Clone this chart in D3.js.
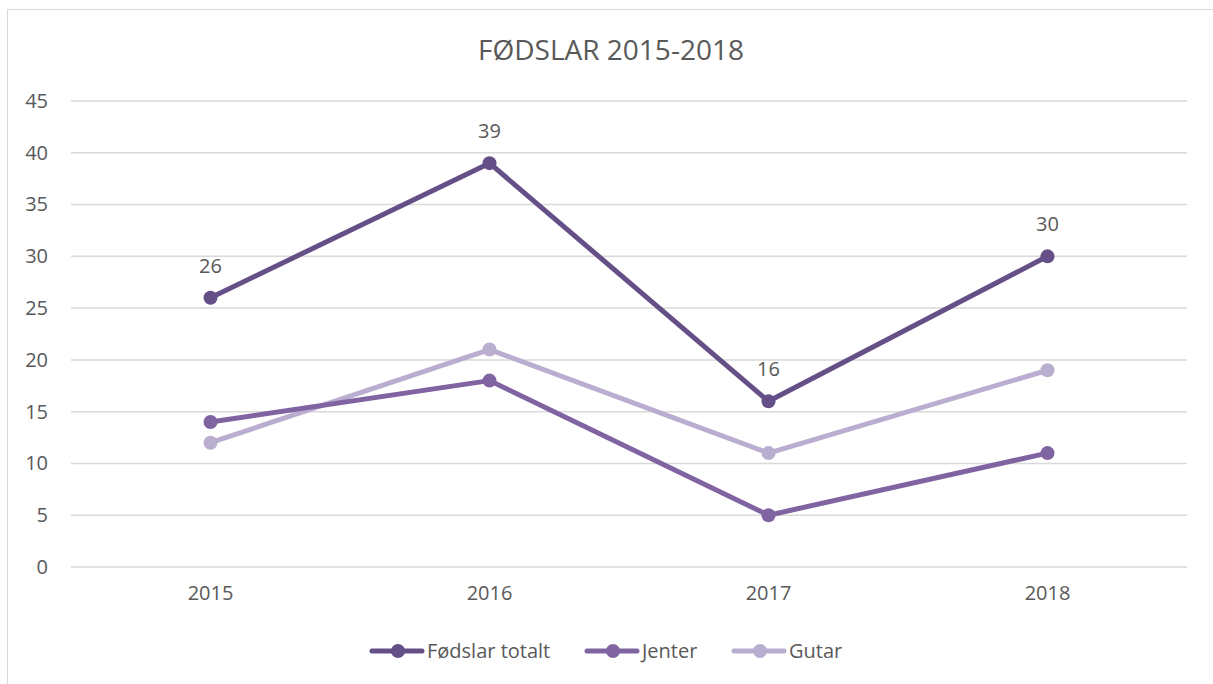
<!DOCTYPE html>
<html>
<head>
<meta charset="utf-8">
<script src="https://cdn.jsdelivr.net/npm/d3@7"></script>
<style>
  body { margin: 0; background: #fff; }
  text { font-family: "Open Sans", "Noto Sans", sans-serif; fill: #595959; }
</style>
</head>
<body>
<svg id="chart"></svg>
<script>
// data
const years = ["2015", "2016", "2017", "2018"];
const seriesNames = ["Fødslar totalt", "Jenter", "Gutar"];
const totalt = [26, 39, 16, 30];
const jenter = [14, 18, 5, 11];
const gutar = [12, 21, 11, 19];
const yTicks = [0, 5, 10, 15, 20, 25, 30, 35, 40, 45];

const width = 1213, height = 684;
const colors = ["#654f87", "#8064a2", "#b9aecf"];
const series = [totalt, jenter, gutar];

const svg = d3.select("#chart").attr("width", width).attr("height", height);

// chart border
svg.append("rect")
  .attr("x", 7.5).attr("y", 9.5)
  .attr("width", width).attr("height", height)
  .attr("fill", "none").attr("stroke", "#d9d9d9").attr("stroke-width", 1);

const x = d3.scaleBand().domain(years).range([71, 1187]);
const y = d3.scaleLinear().domain([0, 45]).range([567, 101]);

// gridlines
svg.append("g")
  .selectAll("line")
  .data(yTicks)
  .enter()
  .append("line")
  .attr("x1", 71).attr("x2", 1187)
  .attr("y1", d => y(d)).attr("y2", d => y(d))
  .attr("stroke", "#d9d9d9").attr("stroke-width", 1.5);

// y axis
const yAxis = svg.append("g")
  .attr("transform", "translate(48,0)")
  .call(d3.axisLeft(y).tickValues(yTicks).tickSize(0).tickPadding(0));
yAxis.select(".domain").remove();
yAxis.selectAll("text").style("font-size", "20px").attr("fill", "#595959");

// x axis
const xAxis = svg.append("g")
  .attr("transform", "translate(0,586)")
  .call(d3.axisBottom(x).tickSize(0).tickPadding(0));
xAxis.select(".domain").remove();
xAxis.selectAll("text").style("font-size", "20px").attr("fill", "#595959");

// title
svg.append("text")
  .attr("x", 611).attr("y", 60)
  .attr("text-anchor", "middle")
  .style("font-size", "28px")
  .text("FØDSLAR 2015-2018");

const line = d3.line()
  .x((d, i) => x(years[i]) + x.bandwidth() / 2)
  .y(d => y(d));

// draw lighter series first so totalt sits on top
[2, 1, 0].forEach(k => {
  const g = svg.append("g");
  g.append("path")
    .datum(series[k])
    .attr("d", line)
    .attr("fill", "none")
    .attr("stroke", colors[k])
    .attr("stroke-width", 5)
    .attr("stroke-linecap", "round")
    .attr("stroke-linejoin", "round");
  g.selectAll("circle")
    .data(series[k])
    .enter()
    .append("circle")
    .attr("cx", (d, i) => x(years[i]) + x.bandwidth() / 2)
    .attr("cy", d => y(d))
    .attr("r", 7)
    .attr("fill", colors[k]);
});

// data labels for totalt
svg.append("g")
  .selectAll("text")
  .data(totalt)
  .enter()
  .append("text")
  .attr("x", (d, i) => x(years[i]) + x.bandwidth() / 2)
  .attr("y", d => y(d) - 25)
  .attr("text-anchor", "middle")
  .style("font-size", "20px")
  .attr("fill", "#404040")
  .text(d => d);

// legend
const legendX = [370, 585, 732];
const legend = svg.append("g")
  .selectAll("g")
  .data(seriesNames)
  .enter()
  .append("g")
  .attr("transform", (d, i) => "translate(" + legendX[i] + ",651)");
legend.append("line")
  .attr("x1", 2).attr("x2", 52)
  .attr("stroke", (d, i) => colors[i])
  .attr("stroke-width", 5)
  .attr("stroke-linecap", "round");
legend.append("circle")
  .attr("cx", 28).attr("r", 7)
  .attr("fill", (d, i) => colors[i]);
legend.append("text")
  .attr("x", 57).attr("y", 7)
  .style("font-size", "20px")
  .text(d => d);
</script>
</body>
</html>
